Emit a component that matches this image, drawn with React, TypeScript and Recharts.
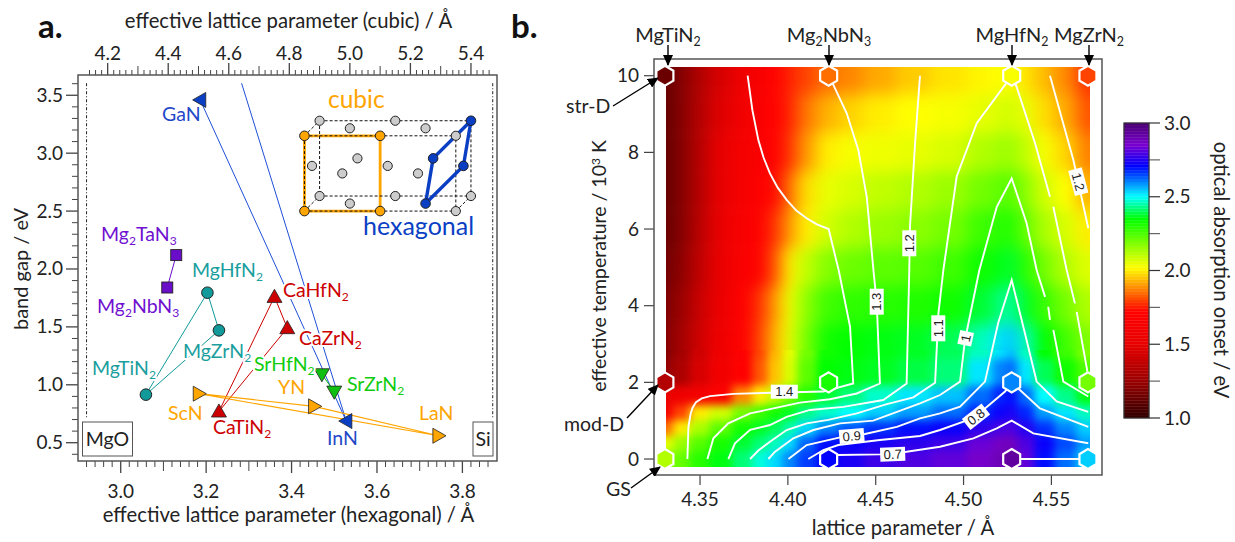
import { ReferenceArea, Scatter, ScatterChart, XAxis, YAxis } from "recharts";

const FONT = "Lato, sans-serif";

// panel a: hexagonal lattice parameter (A) and band gap (eV)
const gaN = [{ x: 3.186, y: 3.46 }];
const inN = [{ x: 3.528, y: 0.687 }];
const gaInLine = [{ x: 3.186, y: 3.46 }, { x: 3.528, y: 0.687 }];
const gaInCubicLine = [{ x: 3.283, y: 3.604 }, { x: 3.528, y: 0.687 }];
const mgNitrides = [
  { x: 3.059, y: 0.915 },
  { x: 3.203, y: 1.795 },
  { x: 3.23, y: 1.47 },
  { x: 3.059, y: 0.915 },
];
const mg2Nitrides = [{ x: 3.13, y: 2.12 }, { x: 3.109, y: 1.84 }];
const caNitrides = [
  { x: 3.23, y: 0.77 },
  { x: 3.36, y: 1.76 },
  { x: 3.39, y: 1.49 },
  { x: 3.23, y: 0.77 },
];
const srNitrides = [{ x: 3.471, y: 1.09 }, { x: 3.5, y: 0.94 }];
const group3Nitrides = [
  { x: 3.183, y: 0.923 },
  { x: 3.453, y: 0.814 },
  { x: 3.744, y: 0.56 },
  { x: 3.183, y: 0.923 },
];
const mgOLimit = [{ x: 2.92, y: 3.604 }, { x: 2.92, y: 0.713 }];
const siLimit = [{ x: 3.871, y: 3.604 }, { x: 3.871, y: 0.713 }];

// unit cell inset, placed on the cubic axis
const cellGrey = [
  { x: 5.35, y: 2.5 }, { x: 5.35, y: 3.15 }, { x: 4.9, y: 2.63 }, { x: 5.15, y: 2.63 }, { x: 5.4, y: 2.63 },
  { x: 4.9, y: 3.28 }, { x: 5.15, y: 3.28 }, { x: 5.0, y: 3.215 }, { x: 5.25, y: 3.215 }, { x: 5.0, y: 2.565 },
  { x: 4.875, y: 2.89 }, { x: 5.125, y: 2.89 }, { x: 4.975, y: 2.825 }, { x: 5.225, y: 2.825 }, { x: 5.025, y: 2.955 },
];
const cellOrange = [{ x: 4.85, y: 2.5 }, { x: 5.1, y: 2.5 }, { x: 4.85, y: 3.15 }, { x: 5.1, y: 3.15 }];
const cellBlue = [{ x: 5.25, y: 2.565 }, { x: 5.275, y: 2.955 }, { x: 5.4, y: 3.28 }, { x: 5.375, y: 2.89 }];
const cubicOutline = [{ x: 5.1, y: 3.15 }, { x: 5.1, y: 2.5 }, { x: 4.85, y: 2.5 }, { x: 4.85, y: 3.15 }, { x: 5.1, y: 3.15 }];
const hexOutline = [{ x: 5.25, y: 2.565 }, { x: 5.275, y: 2.955 }, { x: 5.4, y: 3.28 }, { x: 5.375, y: 2.89 }, { x: 5.25, y: 2.565 }];
const cellEdges = [
  [{ x: 4.85, y: 3.15 }, { x: 5.35, y: 3.15 }, { x: 5.35, y: 2.5 }, { x: 4.85, y: 2.5 }, { x: 4.85, y: 3.15 }],
  [{ x: 4.9, y: 3.28 }, { x: 5.4, y: 3.28 }, { x: 5.4, y: 2.63 }, { x: 4.9, y: 2.63 }, { x: 4.9, y: 3.28 }],
  [{ x: 4.85, y: 3.15 }, { x: 4.9, y: 3.28 }],
  [{ x: 4.85, y: 2.5 }, { x: 4.9, y: 2.63 }],
  [{ x: 5.35, y: 3.15 }, { x: 5.4, y: 3.28 }],
  [{ x: 5.35, y: 2.5 }, { x: 5.4, y: 2.63 }],
];

// panel b: absorption onset (eV) on lattice parameter x temperature
const heatX = [4.331, 4.339, 4.35, 4.361, 4.376, 4.384, 4.393, 4.401, 4.41, 4.423, 4.435, 4.452, 4.472, 4.492, 4.512, 4.521, 4.527, 4.535, 4.546, 4.558, 4.571];
const heatY = [10, 9, 8, 7, 6, 5, 4, 3, 2.2, 1.6, 1.2, 0.8, 0.4, 0];
const heatZ = [
  [1.12, 1.2, 1.32, 1.45, 1.58, 1.65, 1.72, 1.76, 1.8, 1.85, 1.88, 1.92, 1.96, 1.99, 2.01, 2.02, 2.03, 1.99, 1.94, 1.88, 1.78],
  [1.12, 1.2, 1.33, 1.47, 1.6, 1.67, 1.72, 1.76, 1.86, 1.93, 1.97, 2.0, 2.02, 2.03, 2.05, 2.07, 2.08, 2.05, 1.98, 1.92, 1.82],
  [1.12, 1.2, 1.34, 1.5, 1.62, 1.68, 1.72, 1.78, 1.9, 2.0, 2.03, 2.04, 2.05, 2.07, 2.12, 2.14, 2.15, 2.1, 2.03, 1.97, 1.87],
  [1.12, 1.2, 1.34, 1.5, 1.63, 1.7, 1.73, 1.85, 1.98, 2.05, 2.07, 2.1, 2.12, 2.15, 2.2, 2.23, 2.24, 2.17, 2.08, 2.02, 1.93],
  [1.13, 1.2, 1.35, 1.52, 1.65, 1.71, 1.78, 1.9, 2.0, 2.08, 2.12, 2.15, 2.17, 2.2, 2.27, 2.3, 2.31, 2.22, 2.13, 2.07, 2.0],
  [1.15, 1.22, 1.37, 1.53, 1.67, 1.72, 1.82, 2.0, 2.1, 2.18, 2.21, 2.23, 2.24, 2.27, 2.33, 2.36, 2.38, 2.3, 2.2, 2.12, 2.06],
  [1.18, 1.25, 1.4, 1.55, 1.7, 1.78, 1.9, 2.04, 2.17, 2.27, 2.29, 2.3, 2.31, 2.33, 2.38, 2.42, 2.45, 2.37, 2.28, 2.2, 2.12],
  [1.2, 1.28, 1.42, 1.58, 1.71, 1.8, 1.93, 2.05, 2.2, 2.33, 2.35, 2.36, 2.37, 2.4, 2.46, 2.52, 2.55, 2.46, 2.35, 2.27, 2.18],
  [1.24, 1.31, 1.45, 1.6, 1.72, 1.82, 1.95, 2.07, 2.23, 2.35, 2.36, 2.37, 2.39, 2.42, 2.52, 2.6, 2.62, 2.52, 2.4, 2.33, 2.25],
  [1.55, 1.58, 1.62, 1.7, 1.88, 2.0, 2.1, 2.2, 2.3, 2.38, 2.42, 2.47, 2.52, 2.55, 2.62, 2.68, 2.7, 2.62, 2.5, 2.43, 2.36],
  [1.62, 1.8, 2.0, 2.08, 2.2, 2.27, 2.33, 2.37, 2.43, 2.47, 2.5, 2.54, 2.58, 2.62, 2.68, 2.72, 2.74, 2.68, 2.58, 2.52, 2.46],
  [1.85, 2.0, 2.13, 2.23, 2.33, 2.37, 2.4, 2.45, 2.53, 2.6, 2.64, 2.67, 2.7, 2.72, 2.76, 2.79, 2.8, 2.75, 2.67, 2.6, 2.54],
  [2.05, 2.15, 2.24, 2.32, 2.38, 2.42, 2.46, 2.53, 2.63, 2.7, 2.72, 2.74, 2.76, 2.78, 2.83, 2.87, 2.88, 2.8, 2.72, 2.65, 2.58],
  [2.18, 2.22, 2.3, 2.36, 2.42, 2.48, 2.53, 2.6, 2.66, 2.71, 2.74, 2.78, 2.8, 2.82, 2.86, 2.89, 2.91, 2.82, 2.7, 2.62, 2.54],
];

const cmapValues = [1.0, 1.25, 1.5, 1.72, 2.02, 2.35, 2.5, 2.71, 2.85, 3.0];
const cmapColors = ["#300000", "#9a0000", "#e80000", "#ff0000", "#ffff00", "#00ff00", "#00ffff", "#0000ff", "#7a00d0", "#4b0072"];

const contour14 = [
  { x: 4.3428, y: 0 }, { x: 4.3434, y: 0.84 }, { x: 4.3447, y: 1.19 }, { x: 4.3458, y: 1.34 }, { x: 4.3477, y: 1.48 }, { x: 4.351, y: 1.58 }, { x: 4.3557, y: 1.64 },
  { x: 4.369, y: 1.7 }, { x: 4.3908, y: 1.73 }, { x: 4.4202, y: 1.76 }, { x: 4.4372, y: 1.97 }, { x: 4.4354, y: 3.45 },
  { x: 4.4289, y: 4.93 }, { x: 4.4232, y: 6.0 }, { x: 4.4165, y: 6.12 }, { x: 4.4107, y: 6.28 }, { x: 4.4048, y: 6.48 }, { x: 4.3993, y: 6.76 }, { x: 4.3942, y: 7.08 }, { x: 4.3898, y: 7.45 },
  { x: 4.3862, y: 7.86 }, { x: 4.3832, y: 8.32 }, { x: 4.3798, y: 9.1 }, { x: 4.3771, y: 10 },
];
const contour13 = [
  { x: 4.3542, y: 0 }, { x: 4.3576, y: 0.54 }, { x: 4.3661, y: 0.93 }, { x: 4.3785, y: 1.19 }, { x: 4.3898, y: 1.3 },
  { x: 4.4069, y: 1.47 }, { x: 4.424, y: 1.56 }, { x: 4.4392, y: 1.71 }, { x: 4.4524, y: 1.97 }, { x: 4.4506, y: 4.06 },
  { x: 4.4487, y: 4.93 }, { x: 4.4449, y: 6.84 }, { x: 4.4401, y: 8.06 }, { x: 4.4335, y: 9.02 }, { x: 4.4259, y: 9.76 }, { x: 4.4232, y: 10 },
];
const contour12 = [
  { x: 4.3661, y: 0 }, { x: 4.3699, y: 0.41 }, { x: 4.3785, y: 0.76 }, { x: 4.3898, y: 0.887 }, { x: 4.3993, y: 1.1 },
  { x: 4.4126, y: 1.28 }, { x: 4.4316, y: 1.36 }, { x: 4.4543, y: 1.54 }, { x: 4.4676, y: 1.97 }, { x: 4.4691, y: 4.93 },
  { x: 4.4695, y: 6.06 }, { x: 4.4724, y: 8.24 }, { x: 4.4752, y: 10 },
];
const contour12Right = [{ x: 4.5492, y: 10 }, { x: 4.5625, y: 7.8 }, { x: 4.571, y: 6.02 }];
const contour11 = [
  { x: 4.3785, y: 0 }, { x: 4.3832, y: 0.22 }, { x: 4.3898, y: 0.45 }, { x: 4.3993, y: 0.757 }, { x: 4.4107, y: 0.93 },
  { x: 4.423, y: 1.02 }, { x: 4.4392, y: 1.19 }, { x: 4.4563, y: 1.43 }, { x: 4.4714, y: 1.61 }, { x: 4.4838, y: 1.99 },
  { x: 4.4857, y: 3.8 }, { x: 4.4885, y: 4.93 }, { x: 4.4961, y: 7.37 }, { x: 4.5075, y: 8.76 }, { x: 4.5236, y: 9.76 },
  { x: 4.5274, y: 10 }, { x: 4.5302, y: 9.71 }, { x: 4.5407, y: 8.24 }, { x: 4.5492, y: 6.84 },
];
const contour11Right = [{ x: 4.5511, y: 6.58 }, { x: 4.5587, y: 4.93 }, { x: 4.5634, y: 4.06 }];
const contour11Edge = [{ x: 4.5644, y: 3.84 }, { x: 4.5705, y: 2.28 }];
const contour10 = [
  { x: 4.3889, y: 0 }, { x: 4.3927, y: 0.19 }, { x: 4.4031, y: 0.54 }, { x: 4.4145, y: 0.757 }, { x: 4.4297, y: 0.93 },
  { x: 4.4486, y: 1.0 }, { x: 4.4752, y: 1.45 }, { x: 4.4866, y: 1.67 }, { x: 4.498, y: 2.02 }, { x: 4.5008, y: 3.1 },
  { x: 4.509, y: 4.93 }, { x: 4.5189, y: 6.58 }, { x: 4.5274, y: 7.32 }, { x: 4.5359, y: 6.15 }, { x: 4.5416, y: 4.93 }, { x: 4.5464, y: 4.23 },
];
const contour10Dash = [{ x: 4.5482, y: 3.97 }, { x: 4.5492, y: 3.63 }];
const contour10Right = [{ x: 4.5511, y: 3.37 }, { x: 4.5568, y: 2.02 }, { x: 4.571, y: 1.63 }];
const contour09 = [
  { x: 4.4003, y: 0 }, { x: 4.4107, y: 0.365 }, { x: 4.4297, y: 0.566 }, { x: 4.4439, y: 0.652 }, { x: 4.462, y: 0.84 },
  { x: 4.4752, y: 1.06 }, { x: 4.4866, y: 1.19 }, { x: 4.498, y: 1.365 }, { x: 4.5122, y: 2.02 }, { x: 4.5197, y: 3.55 },
  { x: 4.5274, y: 4.67 }, { x: 4.5343, y: 3.4 }, { x: 4.5416, y: 2.02 }, { x: 4.553, y: 1.5 }, { x: 4.571, y: 1.23 },
];
const contour08 = [
  { x: 4.4116, y: 0 }, { x: 4.4202, y: 0.235 }, { x: 4.4287, y: 0.365 }, { x: 4.4524, y: 0.496 }, { x: 4.4752, y: 0.6 },
  { x: 4.4866, y: 0.757 }, { x: 4.4999, y: 0.973 }, { x: 4.5122, y: 1.32 }, { x: 4.5236, y: 1.76 }, { x: 4.5274, y: 2 },
  { x: 4.5321, y: 1.8 }, { x: 4.5435, y: 1.32 }, { x: 4.571, y: 0.84 },
];
const contour07 = [
  { x: 4.4232, y: 0 }, { x: 4.4287, y: 0.104 }, { x: 4.4524, y: 0.12 }, { x: 4.4676, y: 0.19 }, { x: 4.4866, y: 0.32 },
  { x: 4.5056, y: 0.54 }, { x: 4.5189, y: 0.8 }, { x: 4.5274, y: 1.0 }, { x: 4.5397, y: 0.67 }, { x: 4.571, y: 0.41 },
];
const contour06 = [{ x: 4.5274, y: 0 }, { x: 4.5708, y: 0 }];
const contours = [contour14, contour13, contour12, contour12Right, contour11, contour11Right, contour11Edge, contour10, contour10Dash, contour10Right, contour09, contour08, contour07, contour06];

const compounds = [
  { x: 4.33, y: 10, z: 1.14 }, { x: 4.4232, y: 10, z: 1.85 }, { x: 4.5274, y: 10, z: 2.03 }, { x: 4.5708, y: 10, z: 1.8 },
  { x: 4.33, y: 2, z: 1.33 }, { x: 4.4232, y: 2, z: 2.32 }, { x: 4.5274, y: 2, z: 2.6 }, { x: 4.5708, y: 2, z: 2.2 },
  { x: 4.33, y: 0, z: 2.12 }, { x: 4.4232, y: 0, z: 2.71 }, { x: 4.5274, y: 0, z: 2.93 }, { x: 4.5708, y: 0, z: 2.54 },
];

const range = (from: number, to: number, step: number) => {
  const out: number[] = [];
  for (let v = from; v <= to + step / 100; v += step) out.push(Math.round(v * 1000) / 1000);
  return out;
};

const bottomTicks = range(2.92, 3.86, 0.02);
const topTicks = range(4.14, 5.46, 0.02);
const gapTicks = range(0.4, 3.6, 0.1);
const latticeTicks = [4.35, 4.4, 4.45, 4.5, 4.55];
const temperatureTicks = [0, 2, 4, 6, 8, 10];
const onsetTicks = [1, 1.25, 1.5, 1.75, 2, 2.25, 2.5, 2.75, 3];
const colorbarValues = range(1, 2.98, 0.02);

const hexToRgb = (c: string) => [1, 3, 5].map((i) => parseInt(c.slice(i, i + 2), 16));
const onsetColor = (z: number) => {
  let i = 0;
  while (i < cmapValues.length - 2 && z > cmapValues[i + 1]) i++;
  const t = Math.max(0, Math.min(1, (z - cmapValues[i]) / (cmapValues[i + 1] - cmapValues[i])));
  const a = hexToRgb(cmapColors[i]);
  const b = hexToRgb(cmapColors[i + 1]);
  return `rgb(${a.map((v, k) => Math.round(v + (b[k] - v) * t)).join(",")})`;
};

const isMultiple = (v: number, step: number) => Math.abs(v / step - Math.round(v / step)) < 1e-6;

function bottomTick({ x, y, payload }: any) {
  const major = isMultiple(payload.value, 0.2);
  const mid = isMultiple(payload.value, 0.1);
  return (
    <g>
      <line x1={x} x2={x} y1={y} y2={y + (major ? 12 : mid ? 10 : 6)} stroke="#444" strokeWidth={major ? 1.3 : 1} />
      {major && <text x={x} y={y + 37} textAnchor="middle" fontFamily={FONT} fontSize={19} fill="#222">{payload.value.toFixed(1)}</text>}
    </g>
  );
}

function topTick({ x, y, payload }: any) {
  const major = isMultiple(payload.value, 0.2);
  const mid = isMultiple(payload.value, 0.1);
  return (
    <g>
      <line x1={x} x2={x} y1={y} y2={y - (major ? 12 : mid ? 9 : 5)} stroke="#444" strokeWidth={major ? 1.3 : 1} />
      {major && <text x={x} y={y - 15} textAnchor="middle" fontFamily={FONT} fontSize={19} fill="#222">{payload.value.toFixed(1)}</text>}
    </g>
  );
}

function gapTick({ x, y, payload }: any) {
  const major = isMultiple(payload.value, 0.5);
  return (
    <g>
      <line x1={x} x2={x - (major ? 12 : 6)} y1={y} y2={y} stroke="#444" strokeWidth={major ? 1.3 : 1} />
      {major && <text x={x - 15} y={y + 6.5} textAnchor="end" fontFamily={FONT} fontSize={19} fill="#222">{payload.value.toFixed(1)}</text>}
    </g>
  );
}

function latticeTick({ x, y, payload }: any) {
  return (
    <g>
      <line x1={x} x2={x} y1={y} y2={y + 10} stroke="#444" strokeWidth={1.2} />
      <text x={x} y={y + 31} textAnchor="middle" fontFamily={FONT} fontSize={19} fill="#222">{payload.value.toFixed(2)}</text>
    </g>
  );
}

function temperatureTick({ x, y, payload }: any) {
  return (
    <g>
      <line x1={x} x2={x - 10} y1={y} y2={y} stroke="#444" strokeWidth={1.2} />
      <text x={x - 15} y={y + 6.5} textAnchor="end" fontFamily={FONT} fontSize={19} fill="#222">{payload.value}</text>
    </g>
  );
}

function onsetTick({ x, y, payload }: any) {
  const major = isMultiple(payload.value, 0.5);
  return (
    <g>
      <line x1={x} x2={x + 11} y1={y} y2={y} stroke={major ? "#333" : "#666"} strokeWidth={1.2} />
      {major && <text x={x + 15} y={y + 6.5} fontFamily={FONT} fontSize={19} fill="#222">{payload.value.toFixed(1)}</text>}
    </g>
  );
}

const noMark = () => <g />;

const triangle = (fill: string, dir: "left" | "right" | "up" | "down") => (p: any) => {
  const { cx, cy } = p;
  const r = 7.5;
  const pts = {
    up: [[cx, cy - r], [cx + r, cy + r * 0.75], [cx - r, cy + r * 0.75]],
    down: [[cx, cy + r], [cx + r, cy - r * 0.75], [cx - r, cy - r * 0.75]],
    left: [[cx - r, cy], [cx + r * 0.75, cy - r], [cx + r * 0.75, cy + r]],
    right: [[cx + r, cy], [cx - r * 0.75, cy - r], [cx - r * 0.75, cy + r]],
  }[dir];
  return <polygon points={pts.map((q) => q.join(",")).join(" ")} fill={fill} stroke="#222" strokeWidth={0.8} />;
};
const circle = (fill: string, r = 5.8) => (p: any) => <circle cx={p.cx} cy={p.cy} r={r} fill={fill} stroke="#222" strokeWidth={1} />;
const square = (fill: string) => (p: any) => <rect x={p.cx - 5.5} y={p.cy - 5.5} width={11} height={11} fill={fill} stroke="#222" strokeWidth={0.9} />;

const hexagon = (p: any) => {
  const { cx, cy } = p;
  const rx = 8.5;
  const ry = 10;
  const pts = [[cx, cy - ry], [cx + rx, cy - ry / 2], [cx + rx, cy + ry / 2], [cx, cy + ry], [cx - rx, cy + ry / 2], [cx - rx, cy - ry / 2]];
  return <polygon points={pts.map((q) => q.join(",")).join(" ")} fill={onsetColor(p.payload?.z ?? p.z)} stroke="#fff" strokeWidth={2.2} />;
};

function PanelA() {
  const connect = (data: any[], stroke: string, width = 1, key?: string, dash?: string, axis = "bottom") => (
    <Scatter
      key={key}
      data={data}
      xAxisId={axis}
      line={{ stroke, strokeWidth: width, strokeDasharray: dash }}
      lineJointType="linear"
      shape={noMark}
      isAnimationActive={false}
    />
  );
  return (
    <ScatterChart width={560} height={542} margin={{ top: 45, right: 63, bottom: 51, left: 38 }}>
      <XAxis xAxisId="bottom" type="number" dataKey="x" domain={[2.9, 3.881]} ticks={bottomTicks} interval={0} height={30} tick={bottomTick} tickLine={false} axisLine={false} tickSize={0} tickMargin={0} allowDataOverflow />
      <XAxis xAxisId="top" orientation="top" type="number" dataKey="x" domain={[4.102, 5.486]} ticks={topTicks} interval={0} height={30} tick={topTick} tickLine={false} axisLine={false} tickSize={0} tickMargin={0} allowDataOverflow />
      <YAxis type="number" dataKey="y" domain={[0.342, 3.675]} ticks={gapTicks} interval={0} width={40} tick={gapTick} tickLine={false} axisLine={false} tickSize={0} tickMargin={0} allowDataOverflow />
      {connect(mgOLimit, "#222", 1, "mgo", "3 2 1 2")}
      {connect(siLimit, "#222", 1, "si", "3 2 1 2")}
      {connect(gaInLine, "#1f4fd8", 1, "gainA")}
      {connect(gaInCubicLine, "#1f4fd8", 1, "gainB")}
      {connect(mgNitrides, "#129a9a", 1, "mg")}
      {connect(mg2Nitrides, "#6a0dc8", 1, "mg2")}
      {connect(caNitrides, "#cc0000", 1, "ca")}
      {connect(srNitrides, "#10c010", 1, "sr")}
      {connect(group3Nitrides, "#ffa500", 1.2, "group3")}
      {connect(cubicOutline, "#ffa500", 2.8, "cubicOutline", undefined, "top")}
      {cellEdges.map((edge, i) => connect(edge, "#111", 1, `edge${i}`, "3 2", "top"))}
      {connect(hexOutline, "#0a3fc4", 3.4, "hexOutline", undefined, "top")}
      <Scatter data={cellGrey} xAxisId="top" shape={circle("#cccccc", 4.6)} isAnimationActive={false} />
      <Scatter data={cellOrange} xAxisId="top" shape={circle("#ffa500", 4.8)} isAnimationActive={false} />
      <Scatter data={cellBlue} xAxisId="top" shape={circle("#0a3fc4", 4.8)} isAnimationActive={false} />
      <Scatter data={gaN} xAxisId="bottom" shape={triangle("#0a3fc4", "left")} isAnimationActive={false} />
      <Scatter data={inN} xAxisId="bottom" shape={triangle("#0a3fc4", "left")} isAnimationActive={false} />
      <Scatter data={mgNitrides.slice(0, 3)} xAxisId="bottom" shape={circle("#129a9a")} isAnimationActive={false} />
      <Scatter data={mg2Nitrides} xAxisId="bottom" shape={square("#6a0dc8")} isAnimationActive={false} />
      <Scatter data={caNitrides.slice(0, 3)} xAxisId="bottom" shape={triangle("#cc0000", "up")} isAnimationActive={false} />
      <Scatter data={srNitrides} xAxisId="bottom" shape={triangle("#10c010", "down")} isAnimationActive={false} />
      <Scatter data={group3Nitrides.slice(0, 3)} xAxisId="bottom" shape={triangle("#ffa500", "right")} isAnimationActive={false} />
    </ScatterChart>
  );
}

const latticeDomain: [number, number] = [4.3238, 4.5788];
const temperatureDomain: [number, number] = [-0.417, 10.436];
// the cell layer runs well past the frame so the blur has something to work on at the edges
const heatLatticeDomain: [number, number] = [4.2806, 4.6221];
const heatTemperatureDomain: [number, number] = [-2.296, 12.314];

function HeatCells() {
  const xEdges = heatX.map((v, i) => (i === 0 ? heatLatticeDomain[0] : (heatX[i - 1] + v) / 2)).concat(heatLatticeDomain[1]);
  const yEdges = heatY.map((v, i) => (i === 0 ? heatTemperatureDomain[1] : (heatY[i - 1] + v) / 2)).concat(heatTemperatureDomain[0]);
  return (
    <ScatterChart width={600} height={560} margin={{ top: 0, right: 0, bottom: 0, left: 0 }}>
      <XAxis type="number" dataKey="x" domain={heatLatticeDomain} hide allowDataOverflow />
      <YAxis type="number" dataKey="y" domain={heatTemperatureDomain} hide allowDataOverflow />
      {heatZ.map((row, r) =>
        row.map((z, c) => (
          <ReferenceArea key={`${r}-${c}`} x1={xEdges[c]} x2={xEdges[c + 1]} y1={yEdges[r + 1]} y2={yEdges[r]} fill={onsetColor(z)} fillOpacity={1} stroke={onsetColor(z)} strokeWidth={0.6} ifOverflow="visible" />
        ))
      )}
    </ScatterChart>
  );
}

function PanelB() {
  return (
    <ScatterChart width={540} height={542} margin={{ top: 59, right: 38, bottom: 37, left: 20 }}>
      <XAxis type="number" dataKey="x" domain={latticeDomain} ticks={latticeTicks} interval={0} height={30} tick={latticeTick} tickLine={false} axisLine={false} tickSize={0} tickMargin={0} allowDataOverflow />
      <YAxis type="number" dataKey="y" domain={temperatureDomain} ticks={temperatureTicks} interval={0} width={34} tick={temperatureTick} tickLine={false} axisLine={false} tickSize={0} tickMargin={0} allowDataOverflow />
      {contours.map((c, i) => (
        <Scatter key={i} data={c} line={{ stroke: "#fff", strokeWidth: 1.9 }} lineJointType="linear" shape={noMark} isAnimationActive={false} />
      ))}
      <Scatter data={compounds} shape={hexagon} isAnimationActive={false} />
    </ScatterChart>
  );
}

function Colorbar() {
  return (
    <ScatterChart width={100} height={340} margin={{ top: 23, right: 0, bottom: 22, left: 24 }}>
      <XAxis type="number" dataKey="x" domain={[0, 1]} hide allowDataOverflow />
      <YAxis orientation="right" type="number" dataKey="y" domain={[1, 3]} ticks={onsetTicks} interval={0} width={51} tick={onsetTick} tickLine={false} axisLine={false} tickSize={0} tickMargin={0} allowDataOverflow />
      {colorbarValues.map((v) => (
        <ReferenceArea key={v} x1={0} x2={1} y1={v} y2={v + 0.02} fill={onsetColor(v + 0.01)} fillOpacity={1} stroke={onsetColor(v + 0.01)} strokeWidth={0.4} ifOverflow="visible" />
      ))}
    </ScatterChart>
  );
}

function Chem({ x, y, text, fill = "#222", size = 19.5, halo = false, anchor = "start" }: any) {
  const parts = text.split(/(\d)/).filter(Boolean);
  let shifted = false;
  return (
    <text x={x} y={y} fill={fill} fontFamily={FONT} fontSize={size} textAnchor={anchor} stroke={halo ? "#fff" : "none"} strokeWidth={halo ? 4 : 0} paintOrder="stroke" strokeLinejoin="round">
      {parts.map((p: string, i: number) => {
        const digit = /\d/.test(p);
        const dy = digit ? size * 0.22 : shifted ? -size * 0.22 : 0;
        shifted = digit;
        return (
          <tspan key={i} dy={dy} fontSize={digit ? size * 0.62 : size}>
            {p}
          </tspan>
        );
      })}
    </text>
  );
}

const TEAL = "#1a9e9e";
const RED = "#cc0000";
const GREEN = "#10cc10";
const ORANGE = "#ffa500";
const PURPLE = "#7010d0";
const BLUE = "#1f48c8";

const panelLabels = [
  { t: "GaN", x: 162, y: 121, c: BLUE },
  { t: "Mg2TaN3", x: 101, y: 241, c: PURPLE },
  { t: "MgHfN2", x: 192, y: 277, c: TEAL },
  { t: "Mg2NbN3", x: 97, y: 313, c: PURPLE },
  { t: "CaHfN2", x: 283, y: 297, c: RED },
  { t: "CaZrN2", x: 299, y: 345, c: RED },
  { t: "MgZrN2", x: 183, y: 358, c: TEAL },
  { t: "SrHfN2", x: 254, y: 371, c: GREEN },
  { t: "MgTiN2", x: 92, y: 375, c: TEAL },
  { t: "SrZrN2", x: 347, y: 391, c: GREEN },
  { t: "YN", x: 278, y: 394, c: ORANGE },
  { t: "ScN", x: 168, y: 420, c: ORANGE },
  { t: "LaN", x: 419, y: 420, c: ORANGE },
  { t: "CaTiN2", x: 213, y: 434, c: RED },
  { t: "InN", x: 327, y: 445, c: BLUE },
];

const contourLabels = [
  { t: "1.4", x: 784.3, y: 391.7, r: 0, w: 27 },
  { t: "1.3", x: 876.7, y: 301.7, r: -90, w: 26 },
  { t: "1.2", x: 909.3, y: 243.3, r: -90, w: 26 },
  { t: "1.1", x: 938.3, y: 328.3, r: -90, w: 26 },
  { t: "1", x: 965.7, y: 338.3, r: -78, w: 14 },
  { t: "1.2", x: 1078.3, y: 181.7, r: 75, w: 26 },
  { t: "0.9", x: 851.7, y: 436, r: -5, w: 25 },
  { t: "0.8", x: 976, y: 416.7, r: -38, w: 25 },
  { t: "0.7", x: 892.7, y: 454.3, r: -2, w: 25 },
];

const topNames = [
  { t: "MgTiN2", x: 668 },
  { t: "Mg2NbN3", x: 829 },
  { t: "MgHfN2", x: 1012 },
  { t: "MgZrN2", x: 1089 },
];

const arrows = [
  [668, 45, 668, 65], [829, 45, 829, 65], [1012, 45, 1012, 65], [1089, 45, 1089, 65],
  [613, 106, 658, 78], [627, 418, 658, 385], [631, 488, 660, 467],
];

function Overlay() {
  return (
    <svg width={1235} height={542} style={{ position: "absolute", left: 0, top: 0, pointerEvents: "none" }}>
      <defs>
        <marker id="head" markerWidth="11" markerHeight="10" refX="10" refY="5" orient="auto" markerUnits="userSpaceOnUse">
          <path d="M0,0 L11,5 L0,10 Z" fill="#000" />
        </marker>
      </defs>
      <rect x={78} y={75} width={419} height={386} fill="none" stroke="#555" strokeWidth={1.5} />
      <rect x={654} y={59} width={448} height={416} fill="none" stroke="#555" strokeWidth={1.5} />
      <rect x={1124} y={123} width={25} height={295} fill="none" stroke="#333" strokeWidth={1.2} />

      <text x={38} y={38} fontFamily={FONT} fontWeight={700} fontSize={33} fill="#111">a.</text>
      <text x={511} y={38} fontFamily={FONT} fontWeight={700} fontSize={33} fill="#111">b.</text>
      <text x={288.5} y={28} textAnchor="middle" fontFamily={FONT} fontSize={20.3} fill="#222">effective lattice parameter (cubic) / Å</text>
      <text x={288.5} y={522} textAnchor="middle" fontFamily={FONT} fontSize={20.3} fill="#222">effective lattice parameter (hexagonal) / Å</text>
      <text transform="translate(28,269) rotate(-90)" textAnchor="middle" fontFamily={FONT} fontSize={20} fill="#222">band gap / eV</text>
      <text x={903} y={535} textAnchor="middle" fontFamily={FONT} fontSize={20.3} fill="#222">lattice parameter / Å</text>
      <text transform="translate(606,266) rotate(-90)" textAnchor="middle" fontFamily={FONT} fontSize={19.5} fill="#222">
        effective temperature / 10<tspan dy={-6} fontSize={12}>3</tspan><tspan dy={6}> K</tspan>
      </text>
      <text transform="translate(1214,270) rotate(90)" textAnchor="middle" fontFamily={FONT} fontSize={20.2} fill="#222">optical absorption onset / eV</text>

      <text x={328} y={108} fontFamily={FONT} fontSize={24.5} fill={ORANGE}>cubic</text>
      <text x={363} y={235} fontFamily={FONT} fontSize={25} fill="#0a3fc4">hexagonal</text>

      {panelLabels.map((l) => (
        <Chem key={l.t} x={l.x} y={l.y} text={l.t} fill={l.c} halo />
      ))}

      <rect x={82.5} y={422} width={50} height={34} fill="#fff" stroke="#555" strokeWidth={1} />
      <text x={107.5} y={446} textAnchor="middle" fontFamily={FONT} fontSize={19.5} fill="#222">MgO</text>
      <rect x={473} y={422} width={20} height={34} fill="#fff" stroke="#555" strokeWidth={1} />
      <text x={483} y={446} textAnchor="middle" fontFamily={FONT} fontSize={19.5} fill="#222">Si</text>

      {topNames.map((l) => (
        <Chem key={l.t} x={l.x} y={42} text={l.t} anchor="middle" size={20} />
      ))}
      <text x={566} y={113} fontFamily={FONT} fontSize={19.5} fill="#222">str-D</text>
      <text x={564} y={431} fontFamily={FONT} fontSize={19.5} fill="#222">mod-D</text>
      <text x={606} y={496} fontFamily={FONT} fontSize={19.5} fill="#222">GS</text>
      {arrows.map((a, i) => (
        <line key={i} x1={a[0]} y1={a[1]} x2={a[2]} y2={a[3]} stroke="#000" strokeWidth={1.4} markerEnd="url(#head)" />
      ))}

      {contourLabels.map((l, i) => (
        <g key={i} transform={`translate(${l.x},${l.y}) rotate(${l.r})`}>
          <rect x={-l.w / 2} y={-7} width={l.w} height={14} fill="#fff" />
          <text y={4.6} textAnchor="middle" fontFamily="Liberation Sans, sans-serif" fontSize={13} fill="#222">{l.t}</text>
        </g>
      ))}
    </svg>
  );
}

export default function App() {
  return (
    <div style={{ position: "absolute", left: 0, top: 0, width: 1235, height: 542, background: "#fff", overflow: "hidden" }}>
      <div style={{ position: "absolute", left: 0, top: 0 }}>
        <PanelA />
      </div>
      {/* cells blurred together and cut to the heat map's extent, softer where the rows are far apart */}
      <div style={{ position: "absolute", left: 666, top: 67, width: 424, height: 283, overflow: "hidden" }}>
        <div style={{ position: "absolute", left: -88, top: -80, filter: "blur(8px)" }}>
          <HeatCells />
        </div>
      </div>
      <div style={{ position: "absolute", left: 666, top: 350, width: 424, height: 117, overflow: "hidden" }}>
        <div style={{ position: "absolute", left: -88, top: -363, filter: "blur(4px)" }}>
          <HeatCells />
        </div>
      </div>
      <div style={{ position: "absolute", left: 600, top: 0 }}>
        <PanelB />
      </div>
      <div style={{ position: "absolute", left: 1100, top: 100 }}>
        <Colorbar />
      </div>
      <Overlay />
    </div>
  );
}
